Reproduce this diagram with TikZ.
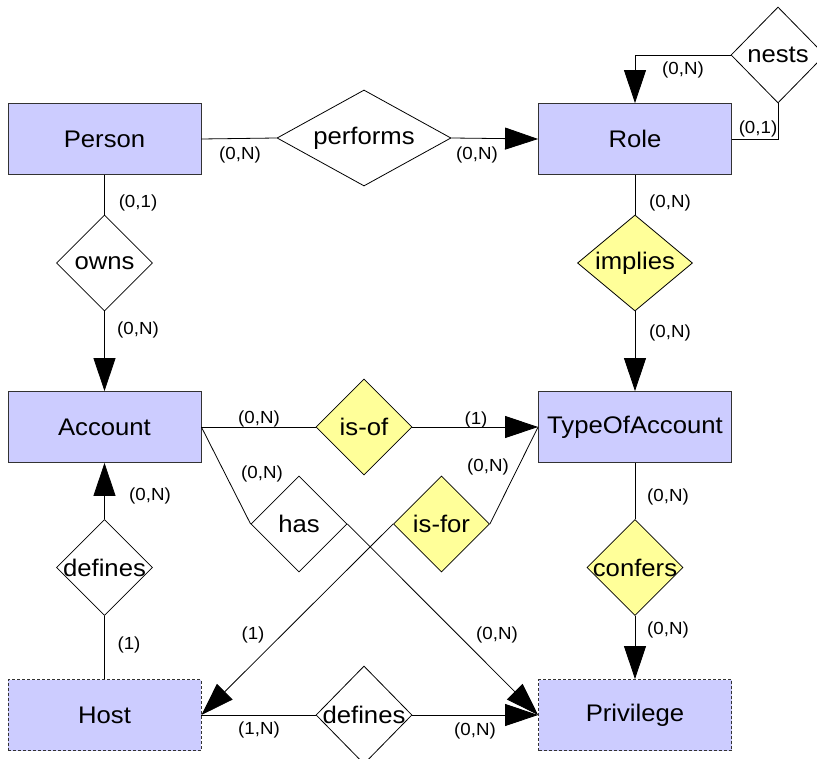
\documentclass[tikz,border=0pt]{standalone}
\usepackage{fontspec}
\setmainfont{Liberation Sans}[FakeStretch=1.07]
\usetikzlibrary{shapes.geometric,arrows.meta}
\definecolor{entityfill}{HTML}{CCCCFF}
\definecolor{relfill}{HTML}{FFFF99}
\definecolor{edgegray}{HTML}{333333}
\begin{document}
\begin{tikzpicture}[x=1pt,y=-1pt,
  every path/.style={line width=0.8pt},
  entity/.style={rectangle, draw=edgegray, fill=entityfill, minimum width=193pt,
    minimum height=71pt, inner sep=0pt, font=\fontsize{24}{28}\selectfont},
  weakentity/.style={entity, dashed, dash pattern=on 3pt off 2pt},
  rel/.style={diamond, draw=black, fill=white, minimum width=96pt,
    minimum height=96pt, inner sep=0pt},
  idrel/.style={rel, fill=relfill},
  reltext/.style={font=\fontsize{24}{28}\selectfont, inner sep=0pt},
  card/.style={font=\fontsize{17.5}{20}\selectfont, inner sep=0pt},
  arr/.style={-{Triangle[length=33pt,width=22pt]}}]
\useasboundingbox (0,0) rectangle (817,759);

% entities
\node[entity] (person) at (104.5,139) {Person};
\node[entity] (role) at (635,139) {Role};
\node[entity] (account) at (104.5,427) {Account};
\node[entity] (toa) at (635,427) {TypeOfAccount};
\node[weakentity] (host) at (104.5,715) {Host};
\node[weakentity] (privilege) at (635,715) {Privilege};

% relationships
\node[rel, minimum width=174pt, label={[reltext]center:performs}] (performs) at (364,138) {};
\node[rel, label={[reltext]center:owns}] (owns) at (104.5,263) {};
\node[idrel, minimum width=115pt, label={[reltext]center:implies}] (implies) at (635,263) {};
\node[rel, minimum width=94pt, label={[reltext]center:nests}] (nests) at (778,55) {};
\node[idrel, label={[reltext]center:is-of}] (isof) at (364,427) {};
\node[rel, label={[reltext]center:has}] (has) at (299,524) {};
\node[idrel, label={[reltext]center:is-for}] (isfor) at (441.5,524) {};
\node[rel, label={[reltext]center:defines}] (defacc) at (104.5,567.5) {};
\node[idrel, label={[reltext]center:confers}] (confers) at (635,567.5) {};
\node[rel, minimum height=98pt, label={[reltext]center:defines}] (defpriv) at (364,715) {};

% connectors
\draw (person.east) -- (performs.west);
\draw[arr] (performs.east) -- (role.west);
\draw (person.south) -- (owns.north);
\draw[arr] (owns.south) -- (account.north);
\draw (role.south) -- (implies.north);
\draw[arr] (implies.south) -- (toa.north);
\draw[arr] (nests.west) -| (role.north);
\draw (nests.south) |- (role.east);
\draw (account.east) -- (isof.west);
\draw[arr] (isof.east) -- (toa.west);
\draw (account.east) -- (has.west);
\draw[arr] (has.east) -- (privilege.west);
\draw (isfor.east) -- (toa.west);
\draw[arr] (isfor.west) -- (host.east);
\draw (host.north) -- (defacc.south);
\draw[arr] (defacc.north) -- (account.south);
\draw (host.east) -- (defpriv.west);
\draw[arr] (defpriv.east) -- (privilege.west);
\draw (toa.south) -- (confers.north);
\draw[arr] (confers.south) -- (privilege.north);

% cardinalities
\node[card] (c1) at (240,155) {(0,N)};
\node[card] (c2) at (477,155) {(0,N)};
\node[card] (c3) at (138,203) {(0,1)};
\node[card] (c4) at (138,330) {(0,N)};
\node[card] (c5) at (670,203) {(0,N)};
\node[card] (c6) at (670,333) {(0,N)};
\node[card] (c7) at (683,70) {(0,N)};
\node[card] (c8) at (758,129) {(0,1)};
\node[card] (c9) at (259,419) {(0,N)};
\node[card] (c10) at (476,420) {(1)};
\node[card] (c11) at (262,474) {(0,N)};
\node[card] (c12) at (488,467) {(0,N)};
\node[card] (c13) at (668,497) {(0,N)};
\node[card] (c14) at (668,630) {(0,N)};
\node[card] (c15) at (497,635) {(0,N)};
\node[card] (c16) at (253,635) {(1)};
\node[card] (c17) at (129,645) {(1)};
\node[card] (c18) at (150,496) {(0,N)};
\node[card] (c19) at (259,730) {(1,N)};
\node[card] (c20) at (475,731) {(0,N)};
\end{tikzpicture}
\end{document}
